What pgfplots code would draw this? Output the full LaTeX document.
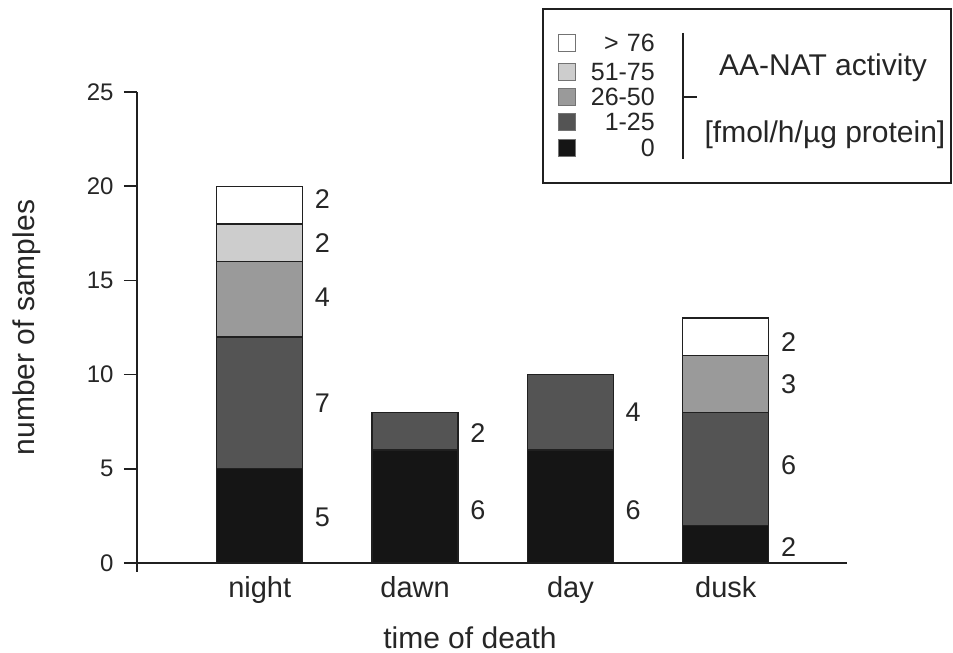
\documentclass[border=0pt]{standalone}
\usepackage{fontspec}
\setmainfont{Liberation Sans}
\usepackage{pgfplots}
\usepackage{pgfplotstable}
\pgfplotsset{compat=1.18}
\definecolor{cA}{HTML}{151515}
\definecolor{cB}{HTML}{545454}
\definecolor{cC}{HTML}{9A9A9A}
\definecolor{cD}{HTML}{CDCDCD}
\definecolor{cE}{HTML}{FFFFFF}
\definecolor{edge}{HTML}{202020}

\pgfplotstableread{
x s0 s1 s2 s3 s4
0 5 7 4 2 2
1 6 2 0 0 0
2 6 4 0 0 0
3 2 6 3 0 2
}\datatable

\pgfplotstableread{
x y label
0.354 19.3 2
0.354 17.0 2
0.354 14.1 4
0.354 8.5 7
0.354 2.4 5
1.354 6.9 2
1.354 2.8 6
2.354 8.0 4
2.354 2.8 6
3.354 11.7 2
3.354 9.5 3
3.354 5.2 6
3.354 0.85 2
}\labeltable

\pgfplotsset{
  common/.style={
    at={(0,0)}, anchor=south west,
    scale only axis, width=710bp, height=471bp,
    xmin=-0.79, xmax=3.78, ymin=0, ymax=25,
  }
}
\tikzset{legtxt/.style={anchor=base east, inner sep=0pt, text=black!85, font=\fontsize{25bp}{29bp}\selectfont}}

\begin{document}
\begin{tikzpicture}
\begin{axis}[
  common,
  ybar stacked, bar width=86bp,
  axis x line*=bottom, axis y line*=left,
  axis line style={line width=1.5bp, edge},
  xtick={0,1,2,3}, xticklabels={night,dawn,day,dusk},
  x tick style={draw=none},
  ytick={0,5,10,15,20,25},
  y tick style={line width=1.5bp, edge},
  tick align=outside, major tick length=13bp,
  /pgf/number format/assume math mode=true,
  yticklabel style={font=\fontsize{24bp}{28bp}\selectfont, text=black!85, xshift=-7bp},
  xticklabel style={font=\fontsize{29bp}{34bp}\selectfont, text=black!85, anchor=base, yshift=-21bp},
  every axis x label/.style={at={(axis description cs:0.469,-0.1805)}, anchor=base, inner sep=0pt, font=\fontsize{30bp}{36bp}\selectfont, text=black!85},
  every axis y label/.style={at={(axis description cs:-0.1437,0.5)}, rotate=90, anchor=base, inner sep=0pt, font=\fontsize{30bp}{36bp}\selectfont, text=black!85},
  xlabel={time of death},
  ylabel={number of samples},
  clip=false,
]
\addplot+[fill=cA, draw=edge, line width=1.3bp] table[x=x, y=s0] {\datatable};
\addplot+[fill=cB, draw=edge, line width=1.3bp] table[x=x, y=s1] {\datatable};
\addplot+[fill=cC, draw=edge, line width=1.3bp] table[x=x, y=s2] {\datatable};
\addplot+[fill=cD, draw=edge, line width=1.3bp] table[x=x, y=s3] {\datatable};
\addplot+[fill=cE, draw=edge, line width=1.3bp] table[x=x, y=s4] {\datatable};
\end{axis}

\begin{axis}[common, hide axis, clip=false]
\addplot[draw=none, mark=none, nodes near coords, point meta=explicit symbolic,
  nodes near coords style={anchor=west, inner sep=0pt, font=\fontsize{27bp}{30bp}\selectfont, text=black!85}]
  table[x=x, y=y, meta=label] {\labeltable};
\end{axis}

% y axis extension below the x axis
\draw[line width=1.5bp, edge] (0,0) -- (0,-9bp);
% legend frame
\draw[line width=1.5bp, edge] (406bp,380bp) rectangle (814bp,554bp);
% legend keys
\filldraw[line width=0.8bp, draw=black!55, fill=cE] (421bp,511.5bp) rectangle (438bp,528.5bp);
\filldraw[line width=0.8bp, draw=black!55, fill=cD] (421bp,482.5bp) rectangle (438bp,499.5bp);
\filldraw[line width=0.8bp, draw=black!55, fill=cC] (421bp,457.5bp) rectangle (438bp,474.5bp);
\filldraw[line width=0.8bp, draw=black!55, fill=cB] (421bp,432.5bp) rectangle (438bp,449.5bp);
\filldraw[line width=0.8bp, draw=black!55, fill=cA] (421bp,406.5bp) rectangle (438bp,423.5bp);
\node[legtxt] at (518bp,511bp) {>\,\,76};
\node[legtxt] at (518bp,482bp) {51-75};
\node[legtxt] at (518bp,457bp) {26-50};
\node[legtxt] at (518bp,432bp) {1-25};
\node[legtxt] at (518bp,406bp) {0};
% bracket and annotation
\draw[line width=1.3bp, edge] (546bp,530bp) -- (546bp,404bp);
\draw[line width=1.3bp, edge] (546bp,466bp) -- (560bp,466bp);
\node[anchor=base, inner sep=0pt, font=\fontsize{30bp}{36bp}\selectfont, text=black!85] at (686bp,487bp) {AA-NAT activity};
\node[anchor=base, inner sep=0pt, font=\fontsize{30bp}{36bp}\selectfont, text=black!85] at (688bp,420bp) {[fmol/h/µg protein]};

\pgfresetboundingbox
\useasboundingbox (-137bp,-90bp) rectangle (816bp,563bp);
\end{tikzpicture}
\end{document}
